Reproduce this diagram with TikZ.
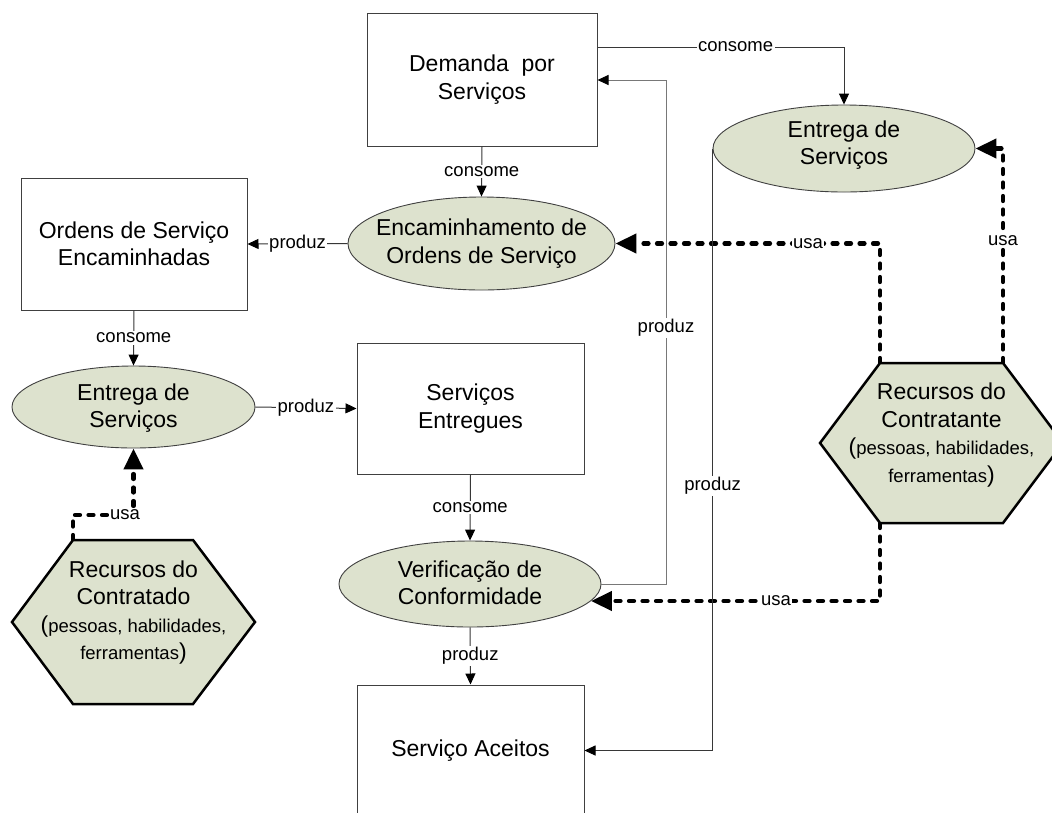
\documentclass[tikz,border=0pt]{standalone}
\usepackage{fontspec}
\setmainfont{Liberation Sans}
\usetikzlibrary{shapes.geometric,arrows.meta}
\definecolor{procfill}{RGB}{221,226,206}
\definecolor{edgegray}{RGB}{64,64,64}
\definecolor{linegray}{RGB}{55,55,55}
\definecolor{lightline}{RGB}{120,120,120}
\newcommand\hexsub{\fontsize{18.5}{26}\selectfont}
\newcommand\hexpar[1]{{\fontsize{23}{26}\selectfont #1}}
\begin{document}
\begin{tikzpicture}[x=1pt,y=-1pt,
  mainfont/.style={font=\fontsize{23}{27.5}\selectfont},
  databox/.style={draw=edgegray, line width=1pt, fill=white, align=center, inner sep=0pt, mainfont},
  proc/.style={ellipse, draw=edgegray, line width=0.9pt, fill=procfill, inner sep=0pt},
  proctext/.style={align=center, inner sep=0pt, mainfont},
  lbl/.style={fill=white, inner sep=1.5pt, font=\fontsize{18.5}{20}\selectfont},
  flow/.style={draw=linegray, line width=1pt, -{Triangle[length=11pt,width=10pt,color=black]}},
  usesline/.style={draw=black, line width=4.2pt, dash pattern=on 5pt off 8.5pt, line cap=round, -{Triangle[length=21pt,width=19pt]}},
  hexshape/.style={draw=black, line width=2.5pt, fill=procfill, line join=miter},
  hextext/.style={align=center, inner sep=0pt, mainfont}]
\clip (0,0) rectangle (1052,812);
\fill[white] (0,0) rectangle (1052,812);

% data boxes
\node[databox, minimum width=230pt, minimum height=133pt] (dem) at (482,79.5) {Demanda\ \ por\\Serviços};
\node[databox, minimum width=226pt, minimum height=132pt] (ord) at (134,244) {Ordens de Serviço\\Encaminhadas};
\node[databox, minimum width=227pt, minimum height=131pt] (entg) at (470.5,408.5) {Serviços\\Entregues};
\node[databox, minimum width=227pt, minimum height=131pt] (acc) at (470.5,750.5) {Serviço Aceitos};

% processes
\node[proc, minimum width=267pt, minimum height=93pt] (enc) at (481.5,243.5) {};
\node[proctext] (encT) at (enc.center) {Encaminhamento de\\Ordens de Serviço};
\node[proc, minimum width=262pt, minimum height=87pt] (entR) at (844,148.5) {};
\node[proctext] (entRT) at (844,145) {Entrega de\\Serviços};
\node[proc, minimum width=243pt, minimum height=82pt] (entL) at (133.5,407) {};
\node[proctext] (entLT) at (133.5,408) {Entrega de\\Serviços};
\node[proc, minimum width=262pt, minimum height=86pt] (ver) at (470,584) {};
\node[proctext] (verT) at (470,583) {Verificação de\\Conformidade};

% resources (hexagons)
\coordinate (hRtl) at (880,363);
\coordinate (hRtr) at (1003,363);
\coordinate (hRbl) at (880,523);
\coordinate (hLtl) at (73,540);
\coordinate (cL) at (133.5,515);

\draw[usesline] (hRtl) |- node[lbl,pos=0.636]{usa} (enc.east);
\draw[usesline] (hRtr) |- node[lbl,pos=0.286]{usa} (entR.east);
\draw[usesline] (hRbl) |- node[lbl,pos=0.68]{usa} (ver.-8.6);
\draw[usesline] (hLtl) |- node[lbl,pos=0.93]{usa} (cL) -- (entL.south);

\draw[hexshape] (hRtl) -- (hRtr) -- (1063,443) -- (1003,523) -- (hRbl) -- (820,443) -- cycle;
\node[hextext] (hexR) at (941.5,435) {Recursos do\\Contratante\\{\hexsub\hexpar{(}pessoas, habilidades,}\\{\hexsub ferramentas\hexpar{)}}};
\draw[hexshape] (hLtl) -- (193,540) -- (255,622) -- (193,704) -- (73,704) -- (12,622) -- cycle;
\node[hextext] (hexL) at (133.5,612.5) {Recursos do\\Contratado\\{\hexsub\hexpar{(}pessoas, habilidades,}\\{\hexsub ferramentas\hexpar{)}}};

% flows
\draw[flow] (dem.south) -- node[lbl]{consome} (enc.north);
\draw[flow] (enc.west) -- node[lbl]{produz} (ord.east);
\draw[flow] (ord.south) -- node[lbl]{consome} (entL.north);
\draw[flow] (entL.east) -- node[lbl]{produz} (entg.west);
\draw[flow] (entg.south) -- node[lbl]{consome} (ver.north);
\draw[flow] (ver.south) -- node[lbl]{produz} (acc.north);
\draw[flow] ([yshift=32.5pt]dem.east) -| node[lbl,pos=0.28]{consome} (entR.north);
\coordinate (gturn) at (666,80);
\draw[flow, draw=lightline] (ver.east) -| node[lbl,pos=0.754]{produz} (gturn) -- (dem.east |- gturn);
\draw[flow] (entR.west) |- node[lbl,pos=0.28]{produz} (acc.east);
\end{tikzpicture}
\end{document}
